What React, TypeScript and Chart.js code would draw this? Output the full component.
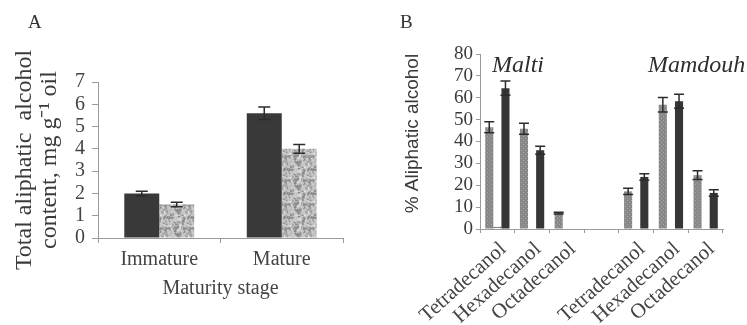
import React, { useEffect, useRef } from "react";
import { Chart, registerables } from "chart.js";

Chart.register(...registerables);

// ---------- Panel A data ----------
const categoriesA = ["Immature", "Mature"];
const seriesA1 = [2.0, 5.6];
const seriesA1Err = [0.1, 0.28];
const seriesA2 = [1.5, 4.0];
const seriesA2Err = [0.1, 0.2];
const yMinA = 0;
const yMaxA = 7;
const yStepA = 1;

// ---------- Panel B data ----------
const categoriesB = [
  "Tetradecanol",
  "Hexadecanol",
  "Octadecanol",
  "",
  "Tetradecanol",
  "Hexadecanol",
  "Octadecanol",
];
const seriesB1 = [46.5, 45.8, 7.3, 0, 17.2, 56.8, 24.6];
const seriesB1Err = [2.5, 2.5, 0.4, 0, 1.4, 3.3, 2.0];
const seriesB2 = [1, 0, 0, 0, 0, 0, 0];
const seriesB3 = [64.4, 36.0, 0, 0, 23.8, 58.4, 16.5];
const seriesB3Err = [3.3, 1.8, 0, 0, 1.5, 3.2, 1.5];
const groupNames = ["Malti", "Mamdouh"];
const yMinB = 0;
const yMaxB = 80;
const yStepB = 10;

const SERIF = '"Liberation Serif", "Times New Roman", serif';
const SANS = '"Liberation Sans", Arial, sans-serif';
const GROUP_FONT = 'italic 24px "Liberation Serif"';

Chart.defaults.font.family = SERIF;
Chart.defaults.color = "#424242";

function makeSpeckle(): CanvasPattern | string {
  const c = document.createElement("canvas");
  c.width = 24;
  c.height = 24;
  const g = c.getContext("2d");
  if (!g) return "#b5b5b5";
  g.fillStyle = "#c9c9c9";
  g.fillRect(0, 0, 24, 24);
  let s = 9871;
  const next = () => {
    s = (s * 16807) % 2147483647;
    return s / 2147483647;
  };
  for (let i = 0; i < 140; i++) {
    const x = next() * 24;
    const y = next() * 24;
    const r = 0.5 + next() * 0.9;
    const t = next();
    g.fillStyle = t < 0.45 ? "#8a8a8a" : t < 0.8 ? "#a4a4a4" : "#dedede";
    g.beginPath();
    g.arc(x, y, r, 0, Math.PI * 2);
    g.fill();
  }
  return g.createPattern(c, "repeat") || "#b5b5b5";
}

function makeDotted(): CanvasPattern | string {
  const c = document.createElement("canvas");
  c.width = 4;
  c.height = 4;
  const g = c.getContext("2d");
  if (!g) return "#8c8c8c";
  g.fillStyle = "#888888";
  g.fillRect(0, 0, 4, 4);
  g.fillStyle = "#a6a6a6";
  g.fillRect(0, 0, 1, 1);
  g.fillRect(2, 2, 1, 1);
  return g.createPattern(c, "repeat") || "#8c8c8c";
}

const errorBarPlugin = {
  id: "errorBars",
  afterDatasetsDraw(chart: any, _args: any, opts: any) {
    const ctx = chart.ctx;
    const yScale = chart.scales.y;
    const cap = opts.cap || 10;
    chart.data.datasets.forEach((ds: any, di: number) => {
      const errs = ds.errors;
      if (!errs) return;
      const meta = chart.getDatasetMeta(di);
      meta.data.forEach((bar: any, i: number) => {
        const v = ds.data[i];
        const e = errs[i];
        if (!e) return;
        const x = bar.x;
        const yt = yScale.getPixelForValue(v + e);
        const yb = yScale.getPixelForValue(v - e);
        ctx.save();
        ctx.strokeStyle = opts.color || "#2c2c2c";
        ctx.lineWidth = opts.width || 1.5;
        ctx.beginPath();
        ctx.moveTo(x, yt);
        ctx.lineTo(x, yb);
        ctx.moveTo(x - cap / 2, yt);
        ctx.lineTo(x + cap / 2, yt);
        ctx.moveTo(x - cap / 2, yb);
        ctx.lineTo(x + cap / 2, yb);
        ctx.stroke();
        ctx.restore();
      });
    });
  },
};

const groupLabelPlugin = {
  id: "groupLabels",
  afterDraw(chart: any, _args: any, opts: any) {
    if (!opts || !opts.names) return;
    const { ctx } = chart;
    const x = chart.scales.x;
    const y = chart.scales.y;
    ctx.save();
    ctx.font = GROUP_FONT;
    ctx.fillStyle = "#2e2e2e";
    ctx.textAlign = "left";
    ctx.textBaseline = "alphabetic";
    opts.names.forEach((name: string, i: number) => {
      ctx.fillText(name, x.getPixelForValue(opts.at[i]), y.getPixelForValue(opts.level));
    });
    ctx.restore();
  },
};

const AXIS = "#9a9a9a";

export default function App() {
  const refA = useRef<HTMLCanvasElement | null>(null);
  const refB = useRef<HTMLCanvasElement | null>(null);

  useEffect(() => {
    if (!refA.current || !refB.current) return;

    const chartA = new Chart(refA.current, {
      type: "bar",
      data: {
        labels: categoriesA,
        datasets: [
          {
            data: seriesA1,
            errors: seriesA1Err,
            backgroundColor: "#393939",
          } as any,
          {
            data: seriesA2,
            errors: seriesA2Err,
            backgroundColor: makeSpeckle(),
          } as any,
        ],
      },
      options: {
        responsive: false,
        animation: false,
        layout: { padding: { left: 0, right: 32, top: 82, bottom: 0 } },
        datasets: { bar: { categoryPercentage: 0.571, barPercentage: 1 } },
        plugins: {
          legend: { display: false },
          tooltip: { enabled: false },
          errorBars: { cap: 12, color: "#2c2c2c", width: 1.5 },
        } as any,
        scales: {
          x: {
            grid: {
              display: true,
              drawOnChartArea: false,
              drawTicks: true,
              tickLength: 5,
              color: AXIS,
              offset: true,
            },
            border: { color: AXIS, width: 1 },
            ticks: { font: { size: 20 }, padding: 5, maxRotation: 0, color: "#444" },
            title: {
              display: true,
              text: "Maturity stage",
              font: { size: 20 },
              padding: { top: 0, bottom: 24 },
              color: "#444",
            },
            afterFit: (s: any) => {
              s.height = 87;
            },
          },
          y: {
            min: yMinA,
            max: yMaxA,
            ticks: {
              stepSize: yStepA,
              autoSkip: false,
              font: { size: 20 },
              padding: 7,
              color: "#444",
            },
            grid: { drawOnChartArea: false, tickLength: 6, color: AXIS },
            border: { color: AXIS, width: 1 },
            title: {
              display: true,
              text: ["Total aliphatic  alcohol", "content, mg g\u207B\u00B9 oil"],
              font: { size: 24, lineHeight: 1.05 },
              padding: { top: 12, bottom: 0 },
              color: "#3a3a3a",
            },
            afterFit: (s: any) => {
              s.width = 98;
            },
          },
        },
      },
      plugins: [errorBarPlugin],
    });

    const dotted = makeDotted();
    const chartB = new Chart(refB.current, {
      type: "bar",
      data: {
        labels: categoriesB,
        datasets: [
          { data: seriesB1, errors: seriesB1Err, backgroundColor: dotted } as any,
          {
            data: seriesB2,
            backgroundColor: "#ffffff",
            borderColor: "#333333",
            borderWidth: 1,
          } as any,
          { data: seriesB3, errors: seriesB3Err, backgroundColor: "#363636" } as any,
        ],
      },
      options: {
        responsive: false,
        animation: false,
        layout: { padding: { left: 0, right: 24, top: 54, bottom: 0 } },
        datasets: { bar: { categoryPercentage: 0.7, barPercentage: 1 } },
        plugins: {
          legend: { display: false },
          tooltip: { enabled: false },
          errorBars: { cap: 10, color: "#2c2c2c", width: 1.5 },
          groupLabels: {
            names: groupNames,
            at: [-0.154, 4.34],
            level: 72,
          },
        } as any,
        scales: {
          x: {
            grid: {
              display: true,
              drawOnChartArea: false,
              drawTicks: true,
              tickLength: 4,
              color: AXIS,
              offset: true,
            },
            border: { color: AXIS, width: 1 },
            ticks: {
              font: { size: 21 },
              minRotation: 42,
              maxRotation: 42,
              autoSkip: false,
              padding: 4,
              labelOffset: 6,
              color: "#444",
            },
            afterFit: (s: any) => {
              s.height = 96;
            },
          },
          y: {
            min: yMinB,
            max: yMaxB,
            ticks: {
              stepSize: yStepB,
              autoSkip: false,
              font: { size: 19 },
              padding: 3,
              color: "#3a3a3a",
            },
            grid: { drawOnChartArea: false, tickLength: 4, color: AXIS },
            border: { color: AXIS, width: 1 },
            title: {
              display: true,
              text: "   % Aliphatic alcohol",
              font: { family: SANS, size: 19, lineHeight: 1.2 },
              padding: { top: 26.6, bottom: 0 },
              color: "#3a3a3a",
            },
            afterFit: (s: any) => {
              s.width = 105;
            },
          },
        },
      },
      plugins: [errorBarPlugin, groupLabelPlugin],
    });

    return () => {
      chartA.destroy();
      chartB.destroy();
    };
  }, []);

  const letter: React.CSSProperties = {
    position: "absolute",
    fontFamily: SERIF,
    fontSize: 19,
    lineHeight: "20px",
    color: "#333",
  };

  return (
    <div
      style={{
        position: "fixed",
        left: 0,
        top: 0,
        width: 747,
        height: 325,
        background: "#fff",
        overflow: "hidden",
      }}
    >
      <canvas
        ref={refA}
        width={375}
        height={325}
        style={{ position: "absolute", left: 0, top: 0, width: 375, height: 325 }}
      />
      <canvas
        ref={refB}
        width={372}
        height={325}
        style={{ position: "absolute", left: 375, top: 0, width: 372, height: 325 }}
      />
      <div style={{ ...letter, left: 28, top: 12 }}>A</div>
      <div style={{ ...letter, left: 400, top: 12 }}>B</div>
    </div>
  );
}
